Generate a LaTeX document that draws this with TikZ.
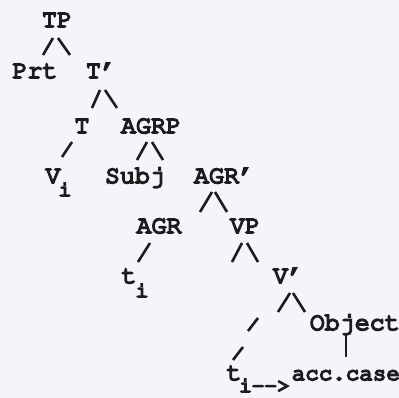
\documentclass[tikz,border=0pt]{standalone}
\usepackage[T1]{fontenc}
\definecolor{paper}{RGB}{246,244,248}
\definecolor{ink}{RGB}{28,28,30}
\newcommand\heavy{\special{pdf:literal 2 Tr 1.7 w}}
\newcommand\courmain{\fontfamily{pcr}\fontseries{m}\fontsize{25}{27}\selectfont\heavy}
\newcommand\courcase{\fontfamily{pcr}\fontseries{m}\fontsize{22.5}{25}\selectfont\heavy}
\newcommand\coursub{\fontfamily{pcr}\fontseries{m}\fontsize{21}{23}\selectfont\heavy}
\tikzset{
  lbl/.style={inner sep=0pt, anchor=base, text=ink, font=\courmain},
  sublbl/.style={inner sep=0pt, anchor=base, text=ink, font=\coursub},
  branch/.style={draw=ink, line width=2.6pt}
}
\begin{document}
\begin{tikzpicture}[x=1pt,y=-1pt]
\fill[paper] (0,0) rectangle (399,398);
\useasboundingbox (0,0) rectangle (399,398);
% nodes
\node[lbl] (TP) at (57,27) {TP};
\node[lbl] (Prt) at (35,78) {Prt};
\node[lbl] (Tbar) at (101,78) {T'};
\node[lbl] (T) at (82,133) {T};
\node[lbl] (AGRP) at (151,133) {AGRP};
\node[lbl] (V) at (53,183) {V};
\node[sublbl] (Vi) at (65,196) {i};
\node[lbl] (Subj) at (135,183) {Subj};
\node[lbl] (AGRbar) at (224,183) {AGR'};
\node[lbl] (AGR) at (159,233) {AGR};
\node[lbl] (VP) at (245,233) {VP};
\node[lbl] (t1) at (129,283) {t};
\node[sublbl] (t1i) at (142,297) {i};
\node[lbl] (Vbar) at (288,283) {V'};
\node[lbl, anchor=base east] (Obj) at (400,330) {Object};
\node[lbl] (t2) at (234,380) {t};
\node[sublbl, anchor=base west] (t2i) at (239,392) {i-{}-{}>};
\node[lbl, font=\courcase, anchor=base east] (acc) at (400,380) {acc.case};
% branch end points
\coordinate (a1) at (53,38);  \coordinate (b1) at (43,55);
\coordinate (a2) at (58,38);  \coordinate (b2) at (70,55);
\coordinate (a3) at (100,90); \coordinate (b3) at (92,108);
\coordinate (a4) at (105,90); \coordinate (b4) at (117,108);
\coordinate (a5) at (72,142); \coordinate (b5) at (62,157);
\coordinate (a6) at (147,142); \coordinate (b6) at (137,160);
\coordinate (a7) at (152,142); \coordinate (b7) at (163,160);
\coordinate (a8) at (212,192); \coordinate (b8) at (200,212);
\coordinate (a9) at (215,192); \coordinate (b9) at (227,212);
\coordinate (a10) at (150,243); \coordinate (b10) at (138,262);
\coordinate (a11) at (242,243); \coordinate (b11) at (232,262);
\coordinate (a12) at (247,243); \coordinate (b12) at (258,262);
\coordinate (a13) at (290,293); \coordinate (b13) at (278,312);
\coordinate (a14) at (293,293); \coordinate (b14) at (305,312);
\coordinate (a15) at (258,318); \coordinate (b15) at (248,331);
\coordinate (a16) at (243,347); \coordinate (b16) at (233,360);
\coordinate (a17) at (346,335); \coordinate (b17) at (346,357);
\foreach \i in {1,...,17} { \draw[branch] (a\i) -- (b\i); }
\end{tikzpicture}
\end{document}
